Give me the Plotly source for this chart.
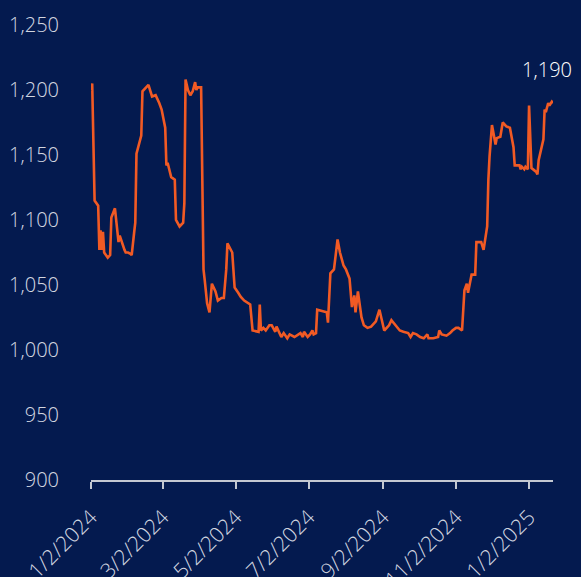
import plotly.graph_objects as go

dates = [
    "2024-01-02", "2024-01-03", "2024-01-05", "2024-01-08", "2024-01-09", "2024-01-10",
    "2024-01-11", "2024-01-12", "2024-01-13", "2024-01-16", "2024-01-18", "2024-01-19",
    "2024-01-22", "2024-01-24", "2024-01-25", "2024-01-26", "2024-01-27", "2024-01-30",
    "2024-01-31", "2024-02-02", "2024-02-04", "2024-02-05", "2024-02-07", "2024-02-08",
    "2024-02-09", "2024-02-13", "2024-02-14", "2024-02-19", "2024-02-22", "2024-02-25",
    "2024-02-28", "2024-03-01", "2024-03-04", "2024-03-05", "2024-03-06", "2024-03-09",
    "2024-03-12", "2024-03-13", "2024-03-16", "2024-03-19", "2024-03-20", "2024-03-21",
    "2024-03-23", "2024-03-25", "2024-03-27", "2024-03-29", "2024-03-30", "2024-03-31",
    "2024-04-03", "2024-04-05", "2024-04-06", "2024-04-08", "2024-04-10", "2024-04-12",
    "2024-04-15", "2024-04-17", "2024-04-20", "2024-04-22", "2024-04-24", "2024-04-25",
    "2024-04-29", "2024-05-01", "2024-05-04", "2024-05-06", "2024-05-09", "2024-05-14",
    "2024-05-16", "2024-05-21", "2024-05-22", "2024-05-23", "2024-05-25", "2024-05-27",
    "2024-05-30", "2024-06-01", "2024-06-04", "2024-06-05", "2024-06-09", "2024-06-11",
    "2024-06-14", "2024-06-16", "2024-06-20", "2024-06-23", "2024-06-25", "2024-06-27",
    "2024-06-28", "2024-07-01", "2024-07-03", "2024-07-05", "2024-07-06", "2024-07-08",
    "2024-07-09", "2024-07-13", "2024-07-17", "2024-07-18", "2024-07-20", "2024-07-23",
    "2024-07-26", "2024-07-28", "2024-07-31", "2024-08-02", "2024-08-05", "2024-08-07",
    "2024-08-09", "2024-08-10", "2024-08-12", "2024-08-15", "2024-08-17", "2024-08-20",
    "2024-08-23", "2024-08-27", "2024-08-30", "2024-09-03", "2024-09-07", "2024-09-09",
    "2024-09-13", "2024-09-16", "2024-09-19", "2024-09-23", "2024-09-25", "2024-09-27",
    "2024-09-30", "2024-10-03", "2024-10-06", "2024-10-09", "2024-10-10", "2024-10-14",
    "2024-10-18", "2024-10-19", "2024-10-21", "2024-10-25", "2024-10-28", "2024-10-30",
    "2024-11-02", "2024-11-04", "2024-11-07", "2024-11-09", "2024-11-11", "2024-11-12",
    "2024-11-15", "2024-11-18", "2024-11-19", "2024-11-23", "2024-11-25", "2024-11-28",
    "2024-11-29", "2024-11-30", "2024-12-02", "2024-12-04", "2024-12-05", "2024-12-06",
    "2024-12-09", "2024-12-11", "2024-12-14", "2024-12-17", "2024-12-20", "2024-12-21",
    "2024-12-25", "2024-12-26", "2024-12-27", "2024-12-29", "2024-12-30", "2025-01-01",
    "2025-01-02", "2025-01-04", "2025-01-08", "2025-01-09", "2025-01-10", "2025-01-14",
    "2025-01-15", "2025-01-16", "2025-01-18", "2025-01-19", "2025-01-21", "2025-01-22",
]

values = [
    1200, 1205, 1115, 1111, 1077, 1092,
    1077, 1091, 1075, 1071, 1073, 1102,
    1109, 1092, 1083, 1088, 1085, 1077,
    1075, 1075, 1074, 1073, 1090, 1098,
    1151, 1165, 1199, 1204, 1195, 1196,
    1190, 1185, 1171, 1142, 1144, 1133,
    1131, 1100, 1095, 1098, 1113, 1208,
    1200, 1196, 1199, 1206, 1200, 1202,
    1202, 1062, 1054, 1036, 1029, 1051,
    1045, 1038, 1040, 1040, 1062, 1082,
    1075, 1048, 1044, 1041, 1038, 1035,
    1015, 1014, 1035, 1015, 1017, 1015,
    1019, 1019, 1014, 1018, 1010, 1013,
    1009, 1012, 1010, 1012, 1013, 1010,
    1014, 1010, 1012, 1015, 1012, 1013,
    1031, 1030, 1029, 1021, 1059, 1062,
    1085, 1075, 1065, 1062, 1055, 1033,
    1042, 1029, 1045, 1025, 1019, 1017,
    1018, 1022, 1031, 1015, 1019, 1023,
    1018, 1015, 1014, 1013, 1010, 1013,
    1012, 1010, 1009, 1012, 1009, 1009,
    1010, 1015, 1012, 1011, 1013, 1015,
    1017, 1017, 1015, 1046, 1051, 1044,
    1058, 1058, 1083, 1083, 1077, 1095,
    1131, 1149, 1173, 1161, 1158, 1163,
    1164, 1175, 1172, 1171, 1156, 1142,
    1142, 1139, 1141, 1139, 1141, 1139,
    1188, 1140, 1137, 1135, 1146, 1162,
    1185, 1183, 1190, 1188, 1191, 1190,
]

last_label = "1,190"
y_ticks = [900, 950, 1000, 1050, 1100, 1150, 1200, 1250]

BG = "#041A4F"
LINE = "#F15A24"
AXIS = "#C4C8D2"
LABEL = "#D2D6E0"
FONT = "Open Sans Light, Open Sans, sans-serif"

fig = go.Figure()
fig.add_trace(go.Scatter(
    x=dates, y=values, mode="lines",
    line=dict(color=LINE, width=2.6),
    hoverinfo="x+y",
))

fig.add_annotation(
    x=dates[-1], y=values[-1], text=last_label,
    showarrow=False, yshift=34, xanchor="right", xshift=21,
    font=dict(family=FONT, size=20, color="#FFFFFF", weight=300),
)

fig.update_layout(
    width=573, height=569,
    margin=dict(l=83, r=28, t=17, b=97, autoexpand=False),
    paper_bgcolor=BG, plot_bgcolor=BG,
    showlegend=False,
    font=dict(family=FONT, color=LABEL),
)

fig.update_xaxes(
    type="date",
    range=[dates[0], dates[-1]],
    tick0="2024-01-02", dtick="M2",
    tickformat="%-m/%-d/%Y",
    tickangle=-45,
    ticks="outside", ticklen=7, tickwidth=1.5, tickcolor=AXIS,
    showline=True, linecolor=AXIS, linewidth=1.5,
    showgrid=False, zeroline=False,
    automargin=False,
    ticklabelstandoff=8,
    tickfont=dict(family=FONT, size=21, color=LABEL, weight=300),
)

fig.update_yaxes(
    range=[900, 1250],
    tickvals=y_ticks,
    ticktext=[f"{v:,}" for v in y_ticks],
    showgrid=False, zeroline=False, showline=False,
    ticks="", ticklabelstandoff=31,
    automargin=False,
    tickfont=dict(family=FONT, size=20, color=LABEL, weight=300),
)

fig.write_html(
    "out.html",
    post_script="document.body.style.backgroundColor='" + BG + "';",
)
